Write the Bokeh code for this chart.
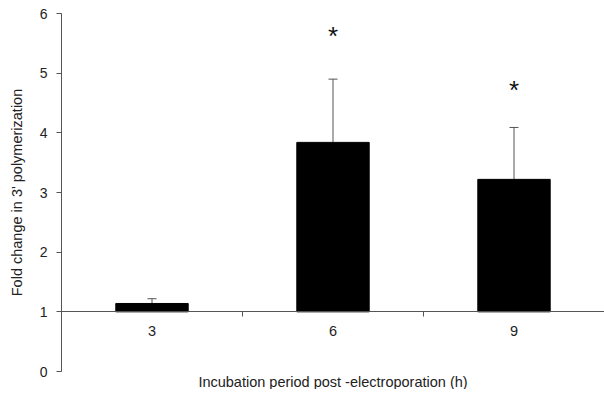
from bokeh.plotting import figure
from bokeh.models import ColumnDataSource, Whisker, TeeHead, FixedTicker, LinearAxis, Range1d, Title
from bokeh.core.properties import value
from bokeh.embed import file_html
from bokeh.resources import INLINE

categories = ["3", "6", "9"]
fold_change = [1.14, 3.84, 3.22]
error_upper = [1.22, 4.90, 4.09]
star_labels = ["", "*", "*"]
star_y = [1.5, 5.63, 4.71]
y_ticks = [0, 1, 2, 3, 4, 5, 6]
baseline = 1

xs = [i + 0.5 for i in range(len(categories))]
src = ColumnDataSource(dict(x=xs, top=fold_change, upper=error_upper, star=star_labels, sy=star_y))

FONT = "Liberation Sans"

p = figure(width=604, height=394, output_backend="svg", toolbar_location=None,
           x_range=Range1d(0, len(categories)), y_range=Range1d(0, 6),
           x_axis_location=None, min_border_left=61, min_border_top=13,
           min_border_right=0, min_border_bottom=0)
p.frame_width = 543
p.frame_height = 358
p.outline_line_color = None
p.xgrid.visible = False
p.ygrid.visible = False
p.background_fill_color = "white"
p.border_fill_color = "white"

p.vbar(x="x", top="top", bottom=baseline, width=0.4, source=src,
       fill_color="black", line_color="black")

w = Whisker(source=src, base="x", upper="upper", lower="top",
            line_color="#555555", line_width=1,
            upper_head=TeeHead(size=9, line_color="#555555", line_width=1),
            lower_head=None)
p.add_layout(w)

p.text(x="x", y="sy", text="star", source=src, text_align="center", text_baseline="middle",
       text_font=value(FONT), text_font_size="26px", text_color="#111111")

# y axis
ya = p.yaxis[0]
ya.ticker = FixedTicker(ticks=y_ticks)
ya.minor_tick_line_color = None
ya.major_tick_in = 0
ya.major_tick_out = 5
ya.axis_line_color = "#555555"
ya.major_tick_line_color = "#555555"
ya.major_label_text_font = FONT
ya.major_label_text_font_size = "14px"
ya.major_label_text_color = "#222222"
ya.major_label_standoff = 9
ya.axis_label = "Fold change in 3' polymerization"
ya.axis_label_text_font = FONT
ya.axis_label_text_font_size = "14.5px"
ya.axis_label_text_font_style = "normal"
ya.axis_label_text_color = "#222222"
ya.axis_label_standoff = 12

# x axis crossing at the baseline
xa = LinearAxis(fixed_location=baseline,
                ticker=FixedTicker(ticks=xs, minor_ticks=[1, 2]),
                major_label_overrides={x: c for x, c in zip(xs, categories)})
xa.major_tick_in = 0
xa.major_tick_out = 0
xa.minor_tick_in = 0
xa.minor_tick_out = 5
xa.axis_line_color = "#555555"
xa.minor_tick_line_color = "#555555"
xa.major_label_text_font = FONT
xa.major_label_text_font_size = "14.5px"
xa.major_label_text_color = "#222222"
xa.major_label_standoff = 9
p.add_layout(xa, "below")

t = Title(text="Incubation period post -electroporation (h)", align="center",
          text_font=FONT, text_font_size="14.5px", text_font_style="normal",
          text_color="#222222", standoff=0, offset=0)
p.add_layout(t, "below")

open("out.html", "w").write(file_html(p, INLINE))
